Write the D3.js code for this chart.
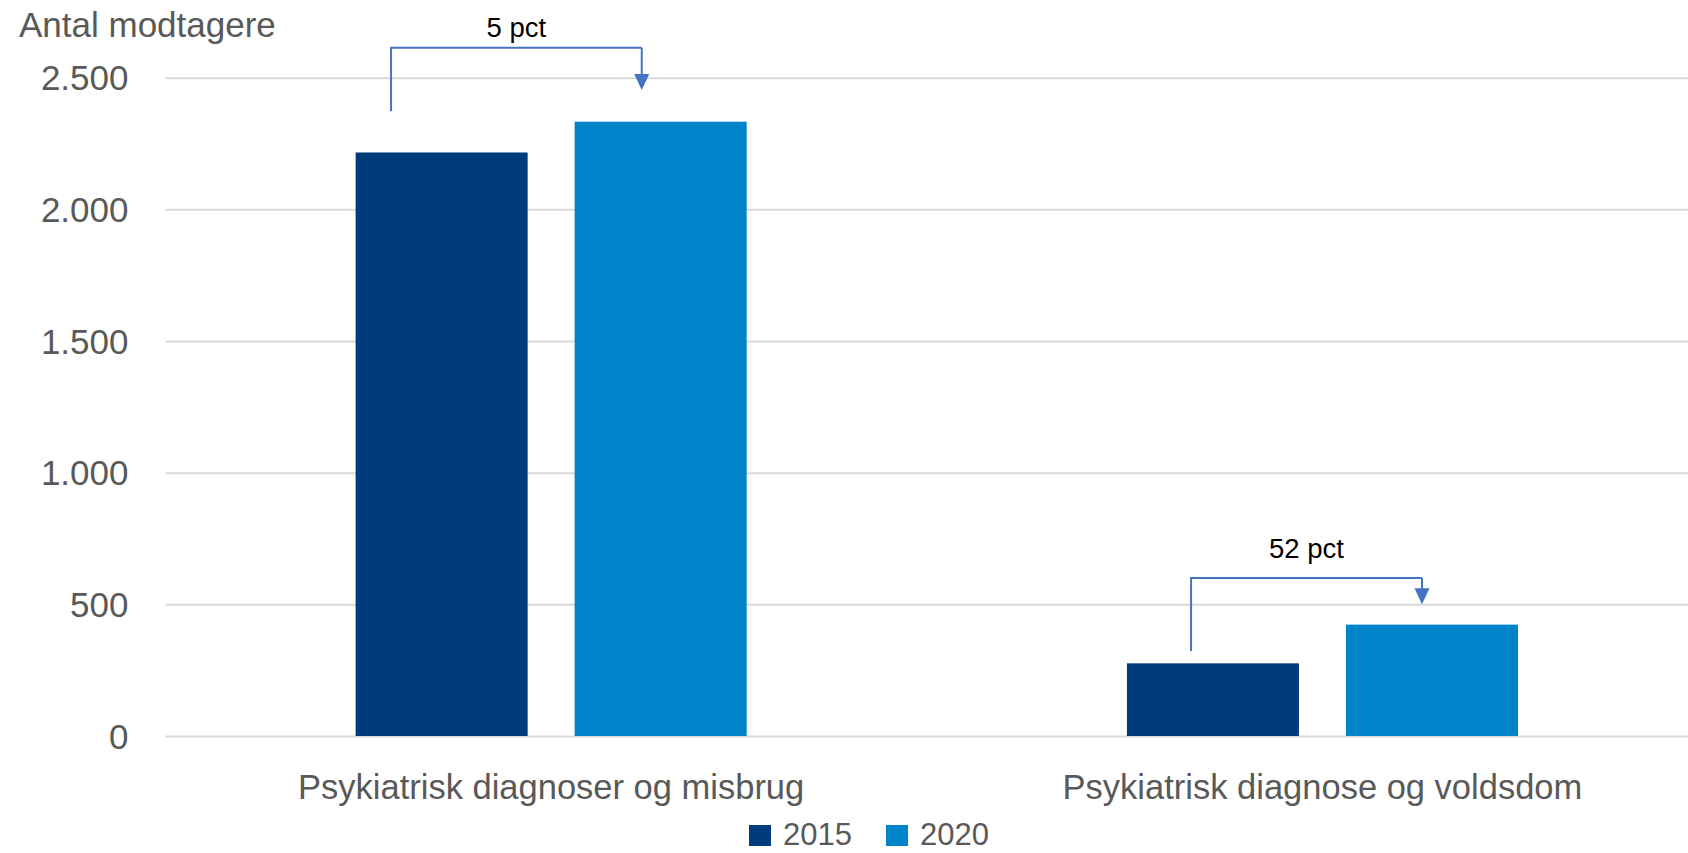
<!DOCTYPE html>
<html>
<head>
<meta charset="utf-8">
<script src="https://cdn.jsdelivr.net/npm/d3@7"></script>
<style>
  html, body { margin: 0; padding: 0; background: #ffffff; }
  svg { display: block; }
  text { font-family: "Liberation Sans", Arial, sans-serif; }
</style>
</head>
<body>
<svg id="chart" width="1688" height="853"></svg>
<script>
// ---- data ----
const categories = ["Psykiatrisk diagnoser og misbrug", "Psykiatrisk diagnose og voldsdom"];
const years = ["2015", "2020"];
const values2015 = [2216, 276];
const values2020 = [2333, 423];
const yTicks = [0, 500, 1000, 1500, 2000, 2500];
const yTitle = "Antal modtagere";
const annotationLabels = ["5 pct", "52 pct"];
// bracket levels in data units: top bar of bracket, start of left leg, arrow tip, label baseline
const bracketTop = [2614, 600];
const bracketStart = [2373, 323];
const bracketArrow = [2453, 500];
const bracketLabel = [2656, 675];
// horizontal position of bracket legs as fraction of bar width
const bracketFromPos = [0.206, 0.373];
const bracketToPos = [0.39, 0.442];

const colors = { "2015": "#003c7b", "2020": "#0084c9" };

const svg = d3.select("#chart");
const W = 1688;
const plotLeft = 165.5, bandStep = 771.3;
const yTop = 77.7, yBottom = 736;

const x0 = d3.scaleBand().domain(categories).range([plotLeft, plotLeft + bandStep * 2]).padding(0);
const x1 = d3.scaleBand().domain(years).range([0, x0.bandwidth()]).paddingInner(0.2146).paddingOuter(0.868);
const y = d3.scaleLinear().domain([0, 2500]).range([yBottom, yTop]);

const locale = d3.formatLocale({ decimal: ",", thousands: ".", grouping: [3], currency: ["", " kr."] });
const fmt = locale.format(",");

// gridlines + y labels
const yAxis = d3.axisLeft(y).tickValues(yTicks).tickFormat(fmt).tickSize(-(W - plotLeft)).tickPadding(37);
const gy = svg.append("g").attr("transform", `translate(${plotLeft},0)`).call(yAxis);
gy.select(".domain").remove();
gy.selectAll(".tick line").attr("stroke", "#d9d9d9").attr("stroke-width", 2);
gy.selectAll(".tick text").attr("fill", "#595959").style("font-size", "35px")
  .style("font-family", "'Liberation Sans', Arial, sans-serif").attr("dy", "0.35em");

// title
svg.append("text").attr("x", 19).attr("y", 37).attr("fill", "#595959")
  .style("font-size", "35px").text(yTitle);

// bars
const rows = categories.map((c, i) => ({ cat: c, vals: [{ year: "2015", v: values2015[i] }, { year: "2020", v: values2020[i] }] }));
const groups = svg.append("g").selectAll("g").data(rows).join("g")
  .attr("transform", d => `translate(${x0(d.cat)},0)`);
groups.selectAll("rect").data(d => d.vals).join("rect")
  .attr("x", d => x1(d.year)).attr("width", x1.bandwidth())
  .attr("y", d => y(d.v)).attr("height", d => y(0) - y(d.v))
  .attr("fill", d => colors[d.year]);

// category labels
svg.append("g").selectAll("text").data(categories).join("text")
  .attr("x", d => x0(d) + x0.bandwidth() / 2).attr("y", 799)
  .attr("text-anchor", "middle").attr("fill", "#595959").style("font-size", "34.5px")
  .text(d => d);

// annotations
const ann = svg.append("g");
categories.forEach((c, i) => {
  const xa = x0(c) + x1("2015") + bracketFromPos[i] * x1.bandwidth();
  const xb = x0(c) + x1("2020") + bracketToPos[i] * x1.bandwidth();
  const yT = y(bracketTop[i]);
  const yS = y(bracketStart[i]);
  const yA = y(bracketArrow[i]);
  const stroke = "#4472c4";
  ann.append("path").attr("d", `M${xa},${yS}V${yT}H${xb}`).attr("fill", "none")
    .attr("stroke", stroke).attr("stroke-width", 2);
  ann.append("path").attr("d", `M${xb},${yT}V${yA - 14}`).attr("fill", "none")
    .attr("stroke", stroke).attr("stroke-width", 2);
  ann.append("path").attr("d", `M${xb - 7.5},${yA - 16}L${xb + 7.5},${yA - 16}L${xb},${yA}Z`).attr("fill", stroke);
  ann.append("text").attr("x", (xa + xb) / 2).attr("y", y(bracketLabel[i]))
    .attr("text-anchor", "middle").attr("fill", "#000").style("font-size", "27.5px")
    .text(annotationLabels[i]);
});

// legend
const legend = svg.append("g");
const legendX = [749, 886];
years.forEach((yr, i) => {
  legend.append("rect").attr("x", legendX[i]).attr("y", 825).attr("width", 22).attr("height", 21).attr("fill", colors[yr]);
  legend.append("text").attr("x", legendX[i] + 34).attr("y", 845).attr("fill", "#595959")
    .style("font-size", "31px").text(yr);
});
</script>
</body>
</html>
